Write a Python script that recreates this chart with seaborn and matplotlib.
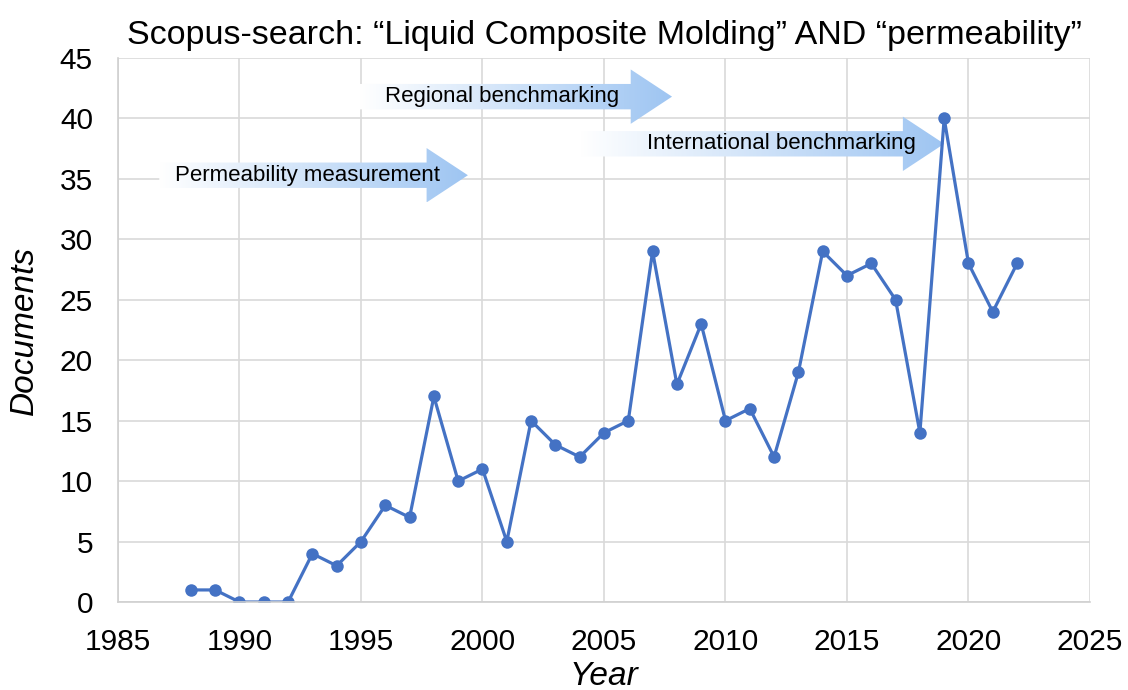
import numpy as np
import pandas as pd
import matplotlib.pyplot as plt
import seaborn as sns
from matplotlib.patches import Polygon
from matplotlib.colors import LinearSegmentedColormap

years = [1988, 1989, 1990, 1991, 1992, 1993, 1994, 1995, 1996, 1997, 1998, 1999,
         2000, 2001, 2002, 2003, 2004, 2005, 2006, 2007, 2008, 2009, 2010, 2011,
         2012, 2013, 2014, 2015, 2016, 2017, 2018, 2019, 2020, 2021, 2022]
documents = [1, 1, 0, 0, 0, 4, 3, 5, 8, 7, 17, 10,
             11, 5, 15, 13, 12, 14, 15, 29, 18, 23, 15, 16,
             12, 19, 29, 27, 28, 25, 14, 40, 28, 24, 28]

# arrow phases: label, start year, end year, y centre, label centre
phase_labels = ['Permeability measurement', 'Regional benchmarking', 'International benchmarking']
phase_start = [1986.7, 1994.9, 2004.0]
phase_end = [1999.4, 2007.8, 2019.0]
phase_y = [35.3, 41.8, 37.9]
label_x = [1992.8, 2000.8, 2012.3]

sns.set_style('whitegrid', rc={'text.color': 'black', 'axes.labelcolor': 'black',
                               'xtick.color': 'black', 'ytick.color': 'black'})
plt.rcParams['font.family'] = ['Liberation Sans', 'DejaVu Sans']

df = pd.DataFrame({'Year': years, 'Documents': documents})

fig = plt.figure(figsize=(11.28, 6.9), dpi=100)
ax = fig.add_axes([0.1046, 0.1275, 0.8617, 0.7885])

sns.lineplot(data=df, x='Year', y='Documents', ax=ax, color='#4472C4',
             marker='o', markersize=9, markeredgewidth=0, linewidth=2.3)

ax.set_xlim(1985, 2025)
ax.set_ylim(0, 45)
ax.set_xticks(range(1985, 2026, 5))
ax.set_yticks(range(0, 46, 5))
ax.tick_params(axis='both', labelsize=21.5, length=0)
ax.tick_params(axis='x', pad=19)
ax.tick_params(axis='y', pad=18)
ax.grid(True, color='#d9d9d9', linewidth=1.2)
for s in ['top', 'right']:
    ax.spines[s].set_visible(False)
for s in ['left', 'bottom']:
    ax.spines[s].set_color('#d0d0d0')
    ax.spines[s].set_linewidth(1.2)

ax.set_xlabel('Year', fontsize=24, style='italic', labelpad=3)
ax.set_ylabel('Documents', fontsize=24, style='italic', labelpad=14)
ax.set_title('Scopus-search: \u201cLiquid Composite Molding\u201d AND \u201cpermeability\u201d',
             fontsize=24.5, pad=10)

cmap = LinearSegmentedColormap.from_list('arr', ['#ffffff', '#9ec5f2'])
grad = np.linspace(0, 1, 256).reshape(1, -1)
for lab, x0, x1, yc, lx in zip(phase_labels, phase_start, phase_end, phase_y, label_x):
    bh = 1.05   # half body height
    hh = 2.25   # half head height
    hl = 1.7    # head length
    pts = [(x0, yc - bh), (x1 - hl, yc - bh), (x1 - hl, yc - hh), (x1, yc),
           (x1 - hl, yc + hh), (x1 - hl, yc + bh), (x0, yc + bh)]
    poly = Polygon(pts, closed=True, facecolor='none', edgecolor='none')
    ax.add_patch(poly)
    im = ax.imshow(grad, cmap=cmap, aspect='auto', extent=[x0, x1, yc - hh, yc + hh],
                   zorder=1.5, interpolation='bilinear')
    im.set_clip_path(poly)
    ax.text(lx, yc, lab, ha='center', va='center', fontsize=16, zorder=3)

ax.set_xlim(1985, 2025)
ax.set_ylim(0, 45)

fig.savefig('out.png', dpi=100)
